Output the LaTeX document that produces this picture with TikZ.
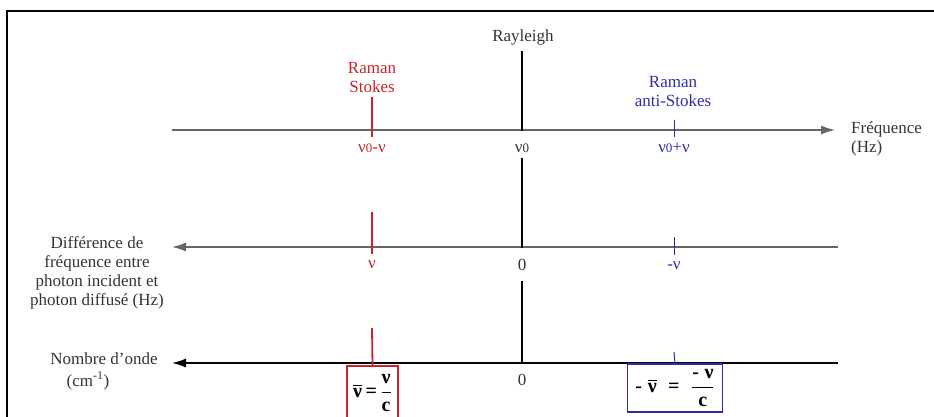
\documentclass[tikz,border=0pt]{standalone}
\usepackage{amsmath}
\usepackage{fontspec}
\setmainfont{Liberation Serif}
\usetikzlibrary{arrows.meta,positioning}
\definecolor{stokesred}{RGB}{200,35,45}
\definecolor{antiblue}{RGB}{45,45,165}
\newcommand{\nuz}{ν{\fontsize{13}{13}\selectfont 0}}

\begin{document}
\begin{tikzpicture}[x=1pt,y=-1pt,>={Latex[length=14pt,width=9pt]},
  lbl/.style={font=\fontsize{17}{19}\selectfont,text=black!80,inner sep=1pt,align=center},
  axisline/.style={line width=1.4pt},
  vline/.style={line width=1.8pt,black},
  redtick/.style={stokesred,line width=1.8pt},
  bluetick/.style={antiblue,line width=1pt},
  wnbox/.style={line width=1.2pt,font=\fontsize{20}{22}\selectfont,inner sep=2pt}]
  \useasboundingbox (0,0) rectangle (934,416);
  \clip (0,0) rectangle (934,416);
  \draw[line width=1.2pt] (7,430) -- (7,11) -- (950,11);
  % frequency axes
  \coordinate (a1l) at (172,130); \coordinate (a1r) at (835,130);
  \coordinate (a2l) at (172,247); \coordinate (a2r) at (838,247);
  \coordinate (a3l) at (172,363); \coordinate (a3r) at (838,363);
  \draw[->,axisline,black!60] (a1l) -- (a1r);
  \draw[->,axisline,black!60] (a2r) -- (a2l);
  \draw[->,axisline,black] (a3r) -- (a3l);
  \node[lbl,align=left,anchor=west] (freq) at (850,139) {Fréquence\\(Hz)};
  \node[lbl] (diff) at (97,273) {Différence de\\fréquence entre\\photon incident et\\photon diffusé (Hz)};
  \node[lbl] (wave) at (104,359) {Nombre d'onde};
  \node[lbl] (waveunit) at (88,381) {(cm\textsuperscript{-1})};
  % Rayleigh
  \node[lbl] (rayl) at (523,37) {Rayleigh};
  \node[lbl] (nu0) at (522,148) {\nuz};
  \node[lbl] (zero2) at (522,265) {0};
  \node[lbl] (zero3) at (522,380) {0};
  \coordinate (c1) at (522,131); \coordinate (c2) at (522,248); \coordinate (c3) at (522,364);
  \draw[vline,shorten <=5pt] (rayl.south -| c1) -- (c1);
  \draw[vline,shorten <=4pt] (nu0) -- (c2);
  \draw[vline,shorten <=9pt] (zero2) -- (c3);
  % Stokes
  \node[lbl,text=stokesred] (stokes) at (372,78) {Raman\\Stokes};
  \node[lbl,text=stokesred] (stokesf) at (372,148) {\nuz-ν};
  \node[lbl,text=stokesred] (stokesd) at (372,265) {ν};
  \node[wnbox,draw=stokesred,minimum width=51pt,minimum height=54pt] (wnred) at (372.5,393)
    {$\overline{\textbf{ν}}\,\textbf{=}\,\dfrac{\textbf{ν}}{\textbf{c}}$};
  \draw[redtick,shorten <=3pt] (stokes) -- (372,137);
  \draw[redtick] (372,212) -- (372,254);
  \draw[redtick] (372,328) -- (wnred.north);
  % anti-Stokes
  \node[lbl,text=antiblue] (anti) at (673,92) {Raman\\anti-Stokes};
  \node[lbl,text=antiblue] (antif) at (674,148) {\nuz+ν};
  \node[lbl,text=antiblue] (antid) at (674,266) {-ν};
  \node[wnbox,draw=antiblue,minimum width=95pt,minimum height=48pt] (wnblue) at (675,388)
    {$\textbf{-}\;\overline{\textbf{ν}}\;\;\textbf{=}\;\;\dfrac{\textbf{-\;ν}}{\textbf{c}}$};
  \draw[bluetick] (674,120) -- (674,137);
  \draw[bluetick] (674,237) -- (674,255);
  \draw[bluetick] (674,352) -- (wnblue.north);
\end{tikzpicture}
\end{document}
